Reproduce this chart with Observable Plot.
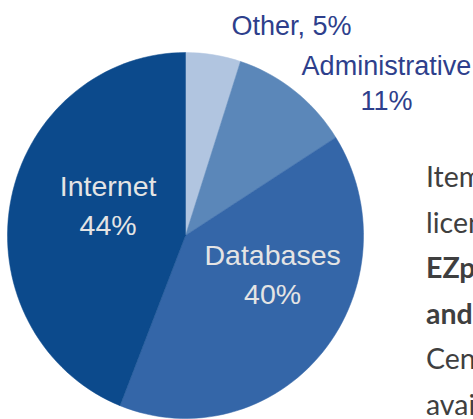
<!DOCTYPE html>
<html>
<head>
<meta charset="utf-8">
<script src="https://cdn.jsdelivr.net/npm/d3@7"></script>
<script src="https://cdn.jsdelivr.net/npm/@observablehq/plot@0.6"></script>
<style>
  html, body { margin: 0; padding: 0; background: #fff; overflow: hidden; width: 473px; height: 419px; }
  #wrap { position: relative; width: 473px; height: 419px; overflow: hidden; }
  #side { position: absolute; left: 426px; top: 154px; font-family: Lato, sans-serif; font-size: 28.5px; color: #3f3f3f; line-height: 45.5px; white-space: nowrap; }
  #side b { font-weight: 700; }
</style>
</head>
<body>
<div id="wrap"><div id="chart"></div>
<div id="side">Items<br>licensed<br><b>EZproxy</b><br><b>and</b><br>Central<br>available</div></div>
<script>
const categories = ["Other", "Administrative", "Databases", "Internet"];
const shares = [5, 11, 40, 44];
const colors = ["#b1c5e0", "#5b87b9", "#3466a8", "#0c4a8c"];

// rendering config (not data)
const labelText = ["Other, 5%", "Administrative\n11%", "Databases\n40%", "Internet\n44%"];
const labelStyle = [
  {r: 1.302, a: 0.0756, fill: "#2e3f8c", size: 27, lh: 1.3},
  {r: 1.408, a: 0.148, fill: "#2e3f8c", size: 27, lh: 1.31},
  {r: 0.529, a: 0.312, fill: "#e4e4e4", size: 28.5, lh: 1.37},
  {r: 0.469, a: 0.811, fill: "#e4e4e4", size: 28.5, lh: 1.35}
];

const pie = d3.pie().sort(null).value(d => d)(shares);
const N = 160;
const polys = [];
pie.forEach((p, i) => {
  polys.push({cat: categories[i], x: 0, y: 0});
  const n = Math.max(2, Math.ceil(N * (p.endAngle - p.startAngle) / (2 * Math.PI)));
  for (let k = 0; k <= n; k++) {
    const a = p.startAngle + (p.endAngle - p.startAngle) * k / n;
    polys.push({cat: categories[i], x: Math.sin(a), y: Math.cos(a)});
  }
  polys.push({cat: categories[i], x: 0, y: 0});
});

const labels = categories.map((c, i) => {
  const s = labelStyle[i];
  const a = s.a * 2 * Math.PI;
  return {cat: c, text: labelText[i], x: s.r * Math.sin(a), y: s.r * Math.cos(a), fill: s.fill, size: s.size, lh: s.lh};
});

const chart = Plot.plot({
  width: 473,
  height: 419,
  margin: 0,
  x: {domain: [-1, 1], range: [7, 363], axis: null},
  y: {domain: [-1, 1], range: [418, 52], axis: null},
  color: {domain: categories, range: colors},
  marks: [
    Plot.line(polys, {x: "x", y: "y", z: "cat", fill: "cat", stroke: "cat", strokeWidth: 0.5, curve: "linear"}),
    ...labels.map(l => Plot.text([l], {x: "x", y: "y", text: "text", fill: l.fill, fontSize: l.size, lineHeight: l.lh, fontFamily: "'Liberation Sans', Arial, sans-serif"}))
  ]
});
chart.style.fontFamily = "'Liberation Sans', Arial, sans-serif";
document.getElementById("chart").appendChild(chart);
</script>
</body>
</html>
